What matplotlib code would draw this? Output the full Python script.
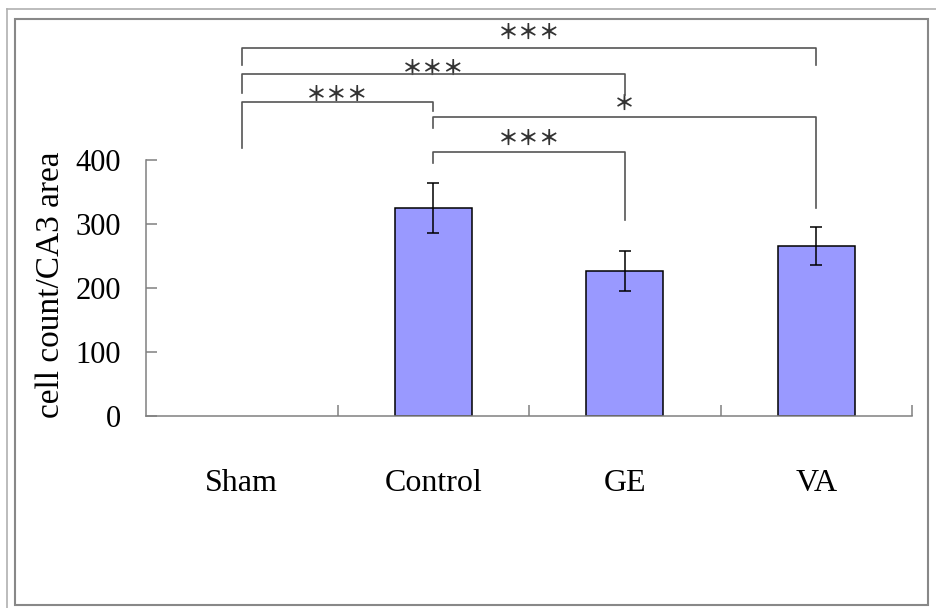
import matplotlib
matplotlib.use("Agg")
import matplotlib.pyplot as plt
from matplotlib.patches import Rectangle
from matplotlib.lines import Line2D
from matplotlib import transforms

# ---- data ----
categories = ["Sham", "Control", "GE", "VA"]
means = [0, 325, 227, 266]
errors = [0, 39, 31, 30]
yticks = [0, 100, 200, 300, 400]
ylabel = "cell count/CA3 area"

# significance brackets: (left idx, right idx, top y, left end y, right end y)
br_left = [0, 0, 0, 1, 1]
br_right = [3, 2, 1, 3, 2]
br_top = [575, 534, 491, 467, 412]
br_left_end = [548, 505, 419, 450, 395]
br_right_end = [548, 502, 477, 325, 306]
br_labels = ["＊＊＊", "＊＊＊", "＊＊＊", "＊", "＊＊＊"]
br_label_y = [602, 545, 505, 491, 436]

W, H = 936, 608
fig = plt.figure(figsize=(W / 100, H / 100), dpi=100)
serif = ["Liberation Serif", "DejaVu Serif"]

# axes placement in pixels
ax_l, ax_r, ax_b, ax_t = 146, 912, 416, 10
ax = fig.add_axes([ax_l / W, (H - ax_b) / H, (ax_r - ax_l) / W, (ax_b - ax_t) / H])
ax.set_xlim(-0.5, 3.5)
ax.set_ylim(0, (ax_b - ax_t) / 0.64)

grey = "#808080"
idx = [i for i, m in enumerate(means) if m > 0]
ax.bar(idx, [means[i] for i in idx], width=0.4, color="#9999FF",
       edgecolor="black", linewidth=1.1, zorder=2)
ax.errorbar(idx, [means[i] for i in idx], yerr=[errors[i] for i in idx],
            fmt="none", ecolor="black", elinewidth=1.1, capsize=4, capthick=1.1, zorder=3)

for s in ["top", "right"]:
    ax.spines[s].set_visible(False)
for s in ["left", "bottom"]:
    ax.spines[s].set_color(grey)
    ax.spines[s].set_linewidth(1.1)
ax.spines["left"].set_bounds(0, 400)

ax.set_yticks(yticks)
ax.set_yticklabels([str(v) for v in yticks], fontfamily=serif, fontsize=22)
ax.tick_params(axis="y", direction="in", length=8, color=grey, width=1.1, pad=18)

ax.set_xticks([0.5, 1.5, 2.5, 3.5])
ax.set_xticklabels([])
ax.tick_params(axis="x", which="major", direction="in", length=8, color=grey, width=1.1)
ax.set_xticks(range(len(categories)), minor=True)
ax.set_xticklabels(categories, minor=True, fontfamily=serif, fontsize=23)
ax.tick_params(axis="x", which="minor", length=0, pad=38)

ax.set_ylabel(ylabel, fontfamily=serif, fontsize=24, va="center")
ax.yaxis.set_label_coords((51 - ax_l) / (ax_r - ax_l), (ax_b - 285) / (ax_b - ax_t))

# brackets
bc = "#555555"
for l, r, top, le, re_, lab, ly in zip(br_left, br_right, br_top, br_left_end,
                                        br_right_end, br_labels, br_label_y):
    ax.plot([l, l, r, r], [le, top, top, re_], color=bc, lw=1.2, clip_on=False, zorder=4)
    tr = transforms.offset_copy(ax.transData, fig=fig, x=0, y=-5.7, units="points")
    ax.text((l + r) / 2, ly, lab, transform=tr, ha="center", va="baseline",
            fontsize=15, fontweight="bold", color="#333333",
            fontfamily=["Noto Sans CJK JP", "DejaVu Sans"])

# picture frame
fig.add_artist(Line2D([7 / W, 7 / W], [0, 1 - 9 / H], transform=fig.transFigure,
                      color="#b0b0b0", lw=1.2))
fig.add_artist(Line2D([7 / W, 1], [1 - 9 / H, 1 - 9 / H], transform=fig.transFigure,
                      color="#b0b0b0", lw=1.2))
fig.add_artist(Rectangle((15 / W, 1 - 605 / H), (928 - 15) / W, (605 - 19) / H,
                         transform=fig.transFigure, fill=False, edgecolor="#888888", lw=1.5))

fig.savefig("out.png", dpi=100)
